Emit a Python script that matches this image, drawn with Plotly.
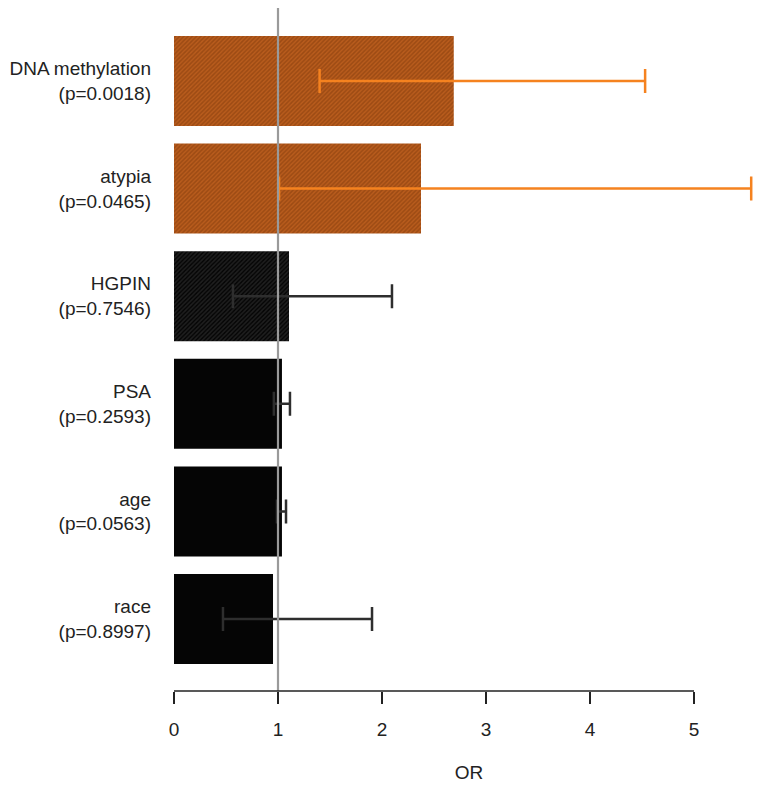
import plotly.graph_objects as go

# ---- data ----
variables = ["DNA methylation", "atypia", "HGPIN", "PSA", "age", "race"]
p_values = ["0.0018", "0.0465", "0.7546", "0.2593", "0.0563", "0.8997"]
odds_ratio = [2.69, 2.375, 1.106, 1.038, 1.038, 0.952]
ci_low = [1.40, 1.01, 0.567, 0.96, 0.99, 0.471]
ci_high = [4.53, 5.55, 2.096, 1.115, 1.077, 1.904]
significant = [True, True, False, False, False, False]
x_ticks = [0, 1, 2, 3, 4, 5]
reference_or = 1

labels = [f"{v}<br>(p={p})" for v, p in zip(variables, p_values)]

fig = go.Figure()

groups = [
    (True, "#b95c1c", "#80390b", "#f5821f"),
    (False, "#050505", "#3c3c3c", "#2e2e2e"),
]
for sig, bg, fg, ecol in groups:
    idx = [i for i, s in enumerate(significant) if s == sig]
    shapes = ["/" if (sig or k == 0) else "" for k in range(len(idx))]
    fig.add_trace(go.Bar(
        y=[labels[i] for i in idx],
        x=[odds_ratio[i] for i in idx],
        orientation="h",
        width=0.836,
        marker=dict(
            color=bg,
            line=dict(width=0),
            pattern=dict(shape=shapes, fgcolor=fg, bgcolor=bg, size=3, solidity=0.5),
        ),
        error_x=dict(
            type="data",
            symmetric=False,
            array=[ci_high[i] - odds_ratio[i] for i in idx],
            arrayminus=[odds_ratio[i] - ci_low[i] for i in idx],
            color=ecol,
            thickness=2.5,
            width=12,
        ),
        showlegend=False,
        hoverinfo="skip",
    ))

fig.add_shape(type="line", xref="x", yref="paper", x0=reference_or, x1=reference_or,
              y0=0, y1=1, line=dict(color="#9a9a9a", width=2.2), layer="above")
fig.add_shape(type="line", xref="x", yref="paper", x0=x_ticks[0], x1=x_ticks[-1],
              y0=0, y1=0, line=dict(color="#222222", width=1.5), layer="above")

fig.update_layout(
    width=756, height=778,
    margin=dict(l=166, r=0, t=0, b=95),
    paper_bgcolor="white", plot_bgcolor="white",
    barmode="overlay",
    font=dict(family="Liberation Sans, Arial, sans-serif", size=19, color="#222222"),
    xaxis=dict(
        range=[0, 590 / 104],
        tickvals=x_ticks,
        ticktext=[str(t) for t in x_ticks],
        ticks="outside", ticklen=12, tickwidth=1.5, tickcolor="#222222",
        showline=False, showgrid=False, zeroline=False,
        ticklabelstandoff=9,
        title=dict(text="OR", standoff=26, font=dict(size=19)),
    ),
    yaxis=dict(
        categoryorder="array",
        categoryarray=labels[::-1],
        range=[-0.669, 5.678],
        showline=False, showgrid=False, zeroline=False,
        ticks="", ticklabelstandoff=22,
    ),
)

fig.write_html("out.html")
